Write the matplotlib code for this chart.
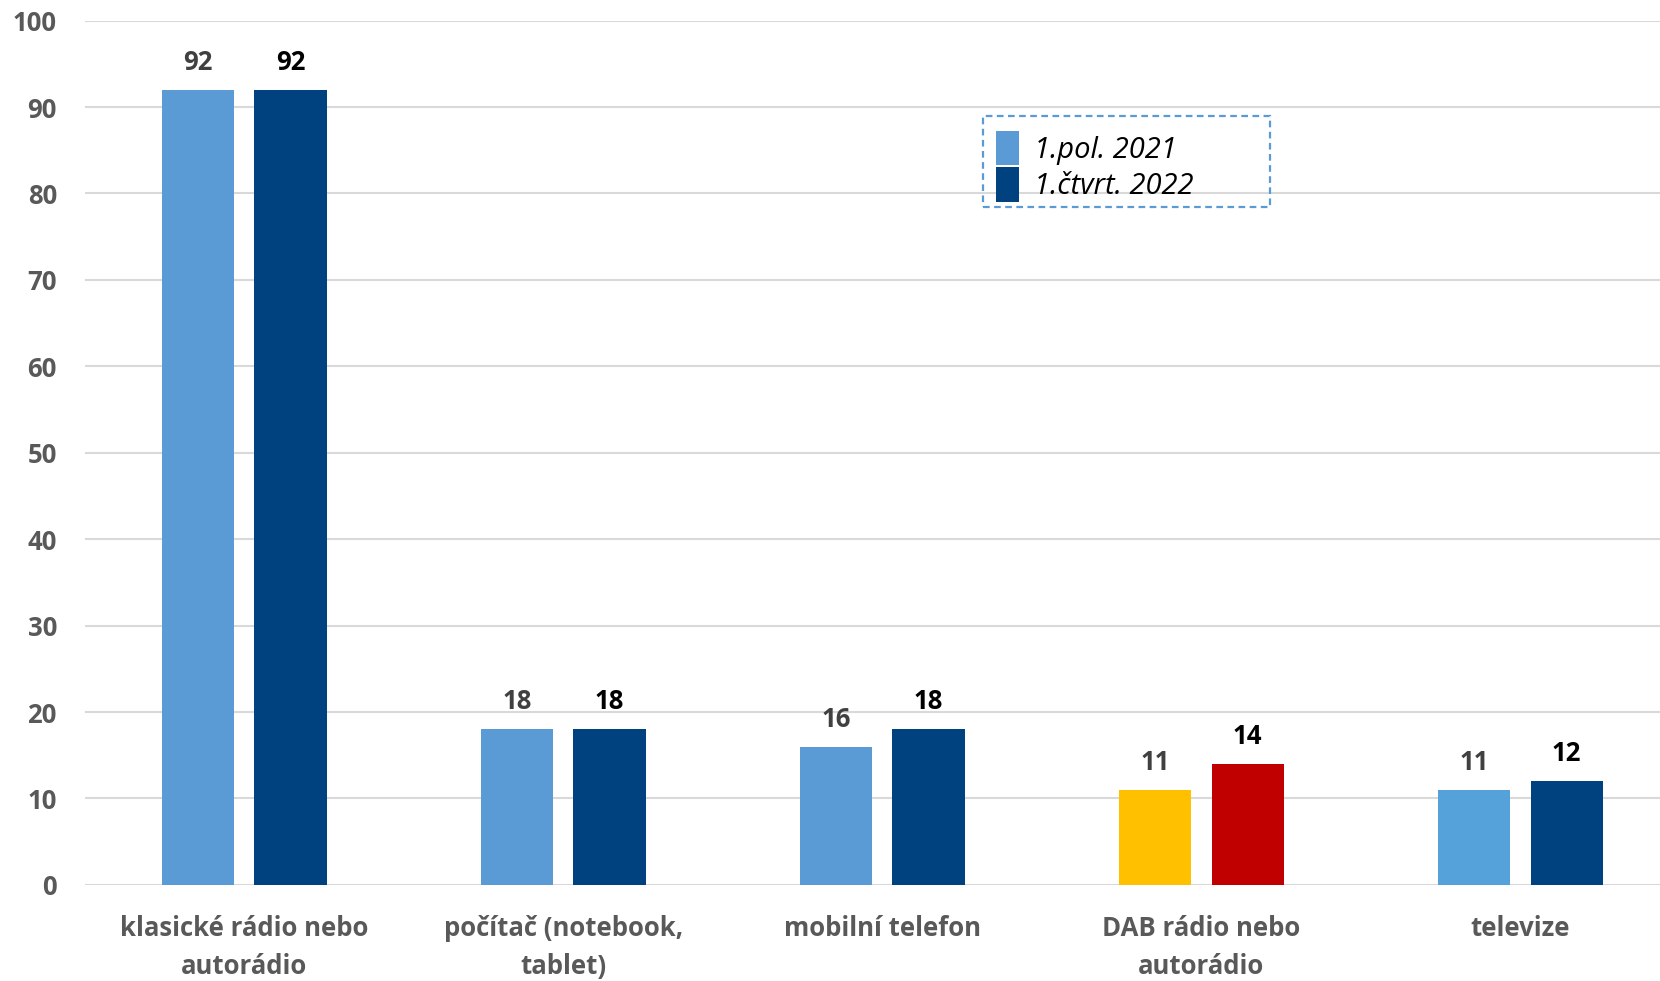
import numpy as np
import matplotlib.pyplot as plt
from matplotlib.patches import Rectangle

categories = ["klasické rádio nebo\nautorádio", "počítač (notebook,\ntablet)",
              "mobilní telefon", "DAB rádio nebo\nautorádio", "televize"]
series_names = ["1.pol. 2021", "1.čtvrt. 2022"]
values_2021 = [92, 18, 16, 11, 11]
values_2022 = [92, 18, 18, 14, 12]
colors_2021 = ["#5B9BD5", "#5B9BD5", "#5B9BD5", "#FFC000", "#55A2DA"]
colors_2022 = ["#00427F", "#00427F", "#00427F", "#C00000", "#00427F"]

plt.rcParams['font.family'] = ['Open Sans', 'DejaVu Sans']

fig = plt.figure(figsize=(16.6, 9.81), dpi=100)
# plot area runs a little past the right edge of the picture, as in the original
ax = fig.add_axes([0.051, 0.098, 0.961, 0.881])

x = np.arange(len(categories))
w = 0.226
off = 0.145
b1 = ax.bar(x - off, values_2021, w, color=colors_2021, zorder=3, label=series_names[0])
b2 = ax.bar(x + off, values_2022, w, color=colors_2022, zorder=3, label=series_names[1])

for rect, v in zip(b1, values_2021):
    ax.annotate(str(v), (rect.get_x() + rect.get_width() / 2, v), xytext=(0, 10),
                textcoords="offset points", ha="center", va="bottom",
                fontsize=18.5, fontweight="bold", color="#404040")
for rect, v in zip(b2, values_2022):
    ax.annotate(str(v), (rect.get_x() + rect.get_width() / 2, v), xytext=(0, 10),
                textcoords="offset points", ha="center", va="bottom",
                fontsize=18.5, fontweight="bold", color="black")

ax.set_xlim(-0.5, len(categories) - 0.5)
ax.set_ylim(0, 100)
ax.set_yticks(range(0, 101, 10))
ax.set_xticks(x)
ax.set_xticklabels(categories, fontsize=18.5, fontweight="bold", color="#595959",
                   linespacing=1.5)
for lbl in ax.get_yticklabels():
    lbl.set_fontsize(18.5)
    lbl.set_fontweight("bold")
    lbl.set_color("#595959")
ax.tick_params(axis="x", length=0, pad=22)
ax.tick_params(axis="y", length=0, pad=20)
ax.grid(axis="y", color="#D9D9D9", linewidth=1.5, zorder=0)
for s in ax.spines.values():
    s.set_visible(False)

# legend box coordinates in axes fraction
lx0, ly0, lw, lh = 0.563, 0.784, 0.180, 0.106
leg = ax.legend(loc="upper left", bbox_to_anchor=(lx0, ly0 + lh - 0.002),
                prop={"style": "italic", "size": 21}, frameon=False,
                handlelength=0.8, handleheight=1.45, handletextpad=0.5,
                labelspacing=0.08, borderpad=0.45, borderaxespad=0)
ax.add_patch(Rectangle((lx0, ly0), lw, lh, transform=ax.transAxes,
                       fill=False, edgecolor="#5B9BD5", linewidth=1.6,
                       linestyle=(0, (3, 2)), zorder=5))

fig.savefig("out.png", dpi=100)
